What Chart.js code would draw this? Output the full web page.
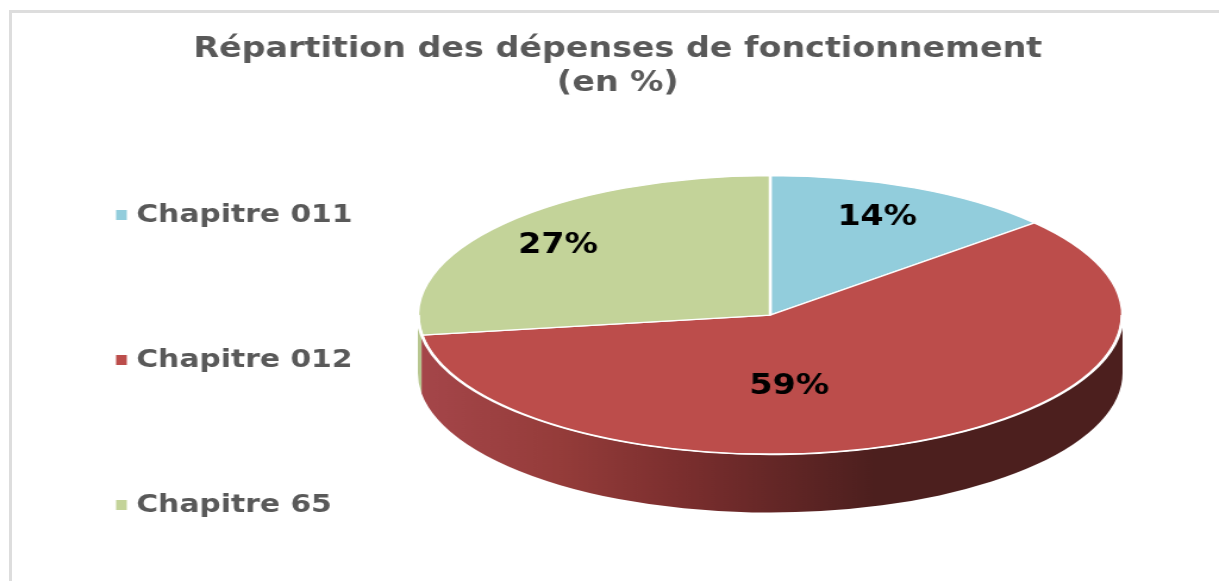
<!DOCTYPE html>
<html lang="fr">
<head>
<meta charset="utf-8">
<title>Répartition des dépenses de fonctionnement</title>
<script src="https://cdn.jsdelivr.net/npm/chart.js@4"></script>
<style>
    html, body { margin: 0; padding: 0; background: #fff; overflow: hidden; }
    #frame { position: absolute; left: 9px; top: 10px; right: 0; bottom: 0; border-left: 3px solid #ddd; border-top: 3px solid #ddd; }
    /* le texte de la référence est étiré en largeur (et un peu flou): on étire tout le canvas */
    #chart { position: absolute; left: 0; top: 0; transform-origin: 0 0; transform: scaleX(1.1904); filter: blur(0.5px); }
</style>
</head>
<body>
<div id="frame"></div>
<canvas id="chart" width="1024" height="581"></canvas>
<script>
const titleLines = ['Répartition des dépenses de fonctionnement', '(en %)'];
const categories = ['Chapitre 011', 'Chapitre 012', 'Chapitre 65'];
const percentages = [13.5, 59.2, 27.3];   // affichés arrondis: 14, 59, 27
const sliceColors = ['#92CDDC', '#BC4D4B', '#C3D399'];
const wallStops = [
    [[0, '#6FA5B3'], [1, '#6FA5B3']],
    [[0, '#A5464A'], [0.2, '#953C3A'], [0.38, '#7A2E2E'], [0.65, '#4C1F1E'], [1, '#4C1F1E']],
    [[0, '#B7C68F'], [1, '#B7C68F']]
];

const squash = 139 / 295;      // hauteur / largeur de l'ellipse
const wallDepth = 58;
const labelFactors = [[0.738, 0.763], [0.129, 0.568], [0.796, 0.755]];
const legendX = 97.5, legendY = 215, legendGap = 145;

function pieGeometry(chart) {
    const arc = chart.getDatasetMeta(0).data[0];
    return { x: arc.x, y: arc.y, r: arc.outerRadius };
}

const pie3d = {
    id: 'pie3d',
    afterLayout(chart) {
        // titre centré sur la page, pas sur le camembert
        chart.titleBlock.left -= 128;
        chart.titleBlock.right -= 128;
    },
    beforeDatasetsDraw(chart) {
        const ctx = chart.ctx;
        const { x, y, r } = pieGeometry(chart);
        const ry = r * squash;

        // Paroi avant du camembert
        chart.getDatasetMeta(0).data.forEach((arc, i) => {
            const start = Math.max(arc.startAngle, 0);
            const end = Math.min(arc.endAngle, Math.PI);
            if (end <= start) return;
            const grad = ctx.createLinearGradient(x - r, 0, x + r, 0);
            wallStops[i].forEach(s => grad.addColorStop(s[0], s[1]));
            ctx.beginPath();
            ctx.ellipse(x, y, r, ry, 0, start, end);
            ctx.ellipse(x, y + wallDepth, r, ry, 0, end, start, true);
            ctx.closePath();
            ctx.fillStyle = grad;
            ctx.fill();
        });

        ctx.save();
        ctx.translate(x, y);
        ctx.scale(1, squash);
        ctx.translate(-x, -y);
    },
    afterDatasetsDraw(chart) {
        const ctx = chart.ctx;
        ctx.restore();
        const { x, y, r } = pieGeometry(chart);

        // Liseré blanc sur le bord avant
        ctx.save();
        ctx.beginPath();
        ctx.ellipse(x, y, r - 1, r * squash - 0.5, 0, 0, Math.PI);
        ctx.strokeStyle = '#fff';
        ctx.lineWidth = 1.4;
        ctx.stroke();
        ctx.restore();

        // Pourcentages
        ctx.save();
        ctx.font = 'bold 28px "DejaVu Sans"';
        ctx.fillStyle = '#000';
        ctx.textAlign = 'center';
        ctx.textBaseline = 'middle';
        chart.getDatasetMeta(0).data.forEach((arc, i) => {
            const mid = (arc.startAngle + arc.endAngle) / 2;
            const lx = x + Math.cos(mid) * r * labelFactors[i][0];
            const ly = y + Math.sin(mid) * r * squash * labelFactors[i][1];
            ctx.fillText(Math.round(percentages[i]) + '%', lx, ly);
        });

        // Légende
        ctx.font = 'bold 25px "DejaVu Sans"';
        ctx.textAlign = 'left';
        categories.forEach((name, i) => {
            const ly = legendY + i * legendGap;
            ctx.fillStyle = sliceColors[i];
            ctx.fillRect(legendX, ly - 5, 9, 10);
            ctx.fillStyle = '#595959';
            ctx.fillText(name, legendX + 17, ly);
        });
        ctx.restore();
    }
};

new Chart(document.getElementById('chart'), {
    type: 'pie',
    data: {
        labels: categories,
        datasets: [{
            data: percentages,
            backgroundColor: sliceColors,
            borderColor: '#fff',
            borderWidth: 2.5,
            clip: false
        }]
    },
    options: {
        responsive: false,
        animation: false,
        radius: 296,
        layout: { padding: { left: 270, bottom: 56 } },
        plugins: {
            legend: { display: false },
            tooltip: { enabled: false },
            title: {
                display: true,
                text: titleLines,
                color: '#595959',
                font: { family: '"DejaVu Sans"', size: 28, weight: 'bold', lineHeight: 1.2 },
                padding: { top: 33, bottom: 5 }
            }
        }
    },
    plugins: [pie3d]
});
</script>
</body>
</html>
